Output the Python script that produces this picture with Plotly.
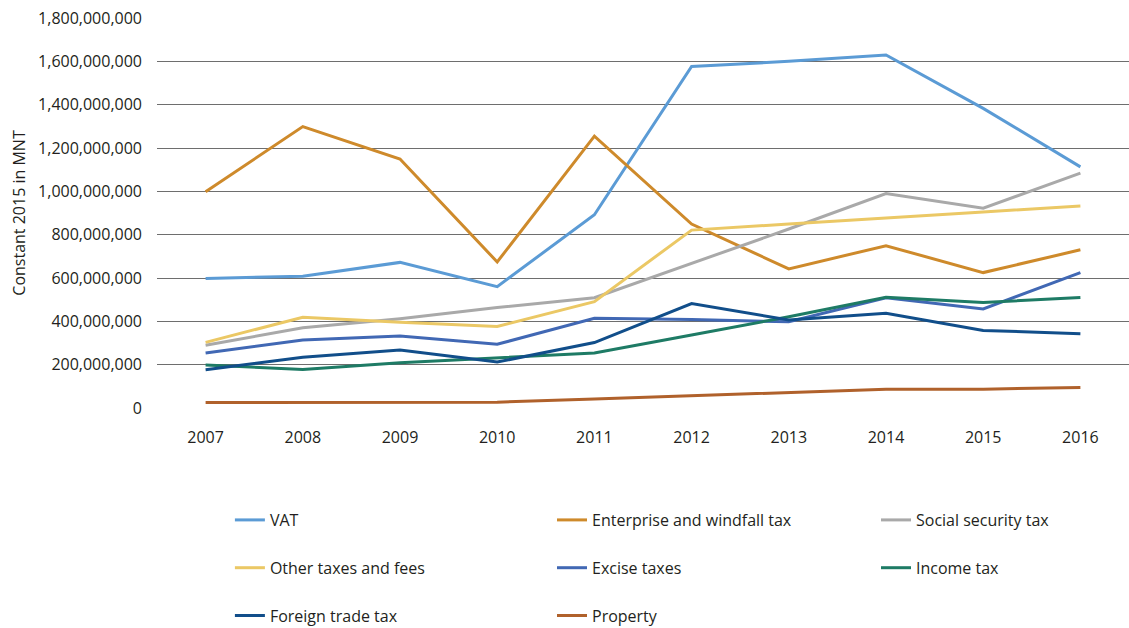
import plotly.graph_objects as go

years = ["2007", "2008", "2009", "2010", "2011", "2012", "2013", "2014", "2015", "2016"]

vat = [598e6, 608e6, 672e6, 560e6, 892e6, 1576e6, 1600e6, 1629e6, 1383e6, 1113e6]
enterprise = [998e6, 1299e6, 1149e6, 674e6, 1255e6, 849e6, 642e6, 749e6, 625e6, 730e6]
social_security = [290e6, 370e6, 412e6, 464e6, 509e6, 669e6, 826e6, 990e6, 922e6, 1084e6]
other_taxes = [303e6, 419e6, 396e6, 376e6, 491e6, 821e6, 849e6, 878e6, 905e6, 932e6]
excise = [254e6, 314e6, 332e6, 294e6, 414e6, 408e6, 398e6, 509e6, 457e6, 625e6]
income = [198e6, 178e6, 209e6, 232e6, 254e6, 337e6, 421e6, 511e6, 487e6, 510e6]
foreign_trade = [177e6, 234e6, 268e6, 212e6, 302e6, 482e6, 406e6, 437e6, 358e6, 343e6]
property_tax = [25e6, 25e6, 26e6, 27e6, 41e6, 57e6, 72e6, 87e6, 87e6, 95e6]

# (name, values, colour, legend column)
series = [
    ("VAT", vat, "#5B9BD5", "legend"),
    ("Enterprise and windfall tax", enterprise, "#CE8A2B", "legend2"),
    ("Social security tax", social_security, "#A9A9A9", "legend3"),
    ("Other taxes and fees", other_taxes, "#EBC865", "legend"),
    ("Excise taxes", excise, "#4168B4", "legend2"),
    ("Income tax", income, "#1E7B65", "legend3"),
    ("Foreign trade tax", foreign_trade, "#114E8A", "legend"),
    ("Property", property_tax, "#B0612B", "legend2"),
]

fig = go.Figure()
for name, vals, color, lg in series:
    fig.add_trace(go.Scatter(
        x=years, y=vals, name=name, mode="lines",
        line=dict(color=color, width=3),
        legend=lg, legendgroup=name,
    ))

font = dict(family="Open Sans", size=16, color="#231F20")

def legend_col(xpos):
    return dict(
        orientation="v", x=xpos, xanchor="left", y=-0.2436, yanchor="top",
        tracegroupgap=24,
        font=dict(family="Open Sans", size=16, color="#231F20"),
        bgcolor="rgba(0,0,0,0)", itemwidth=30,
    )

fig.update_layout(
    width=1129, height=628,
    margin=dict(l=157, r=0, t=18, b=220, autoexpand=False),
    paper_bgcolor="white", plot_bgcolor="white",
    font=font,
    showlegend=True,
    legend=legend_col(0.075),
    legend2=legend_col(0.4064),
    legend3=legend_col(0.7397),
    xaxis=dict(
        type="category", range=[-0.5, 9.5], automargin=False,
        showgrid=False, showline=False, zeroline=False,
        ticks="", ticklabelstandoff=18,
        tickfont=font,
    ),
    yaxis=dict(
        range=[0, 1.8e9], dtick=2e8, tickformat=",d", automargin=False,
        showgrid=True, gridcolor="#6E6E6E", gridwidth=1.3,
        zeroline=False, showline=False, ticks="",
        ticklabelstandoff=14, tickfont=font,
        title=dict(text="Constant 2015 in MNT", font=font, standoff=8),
    ),
)

fig.write_html("out.html")
